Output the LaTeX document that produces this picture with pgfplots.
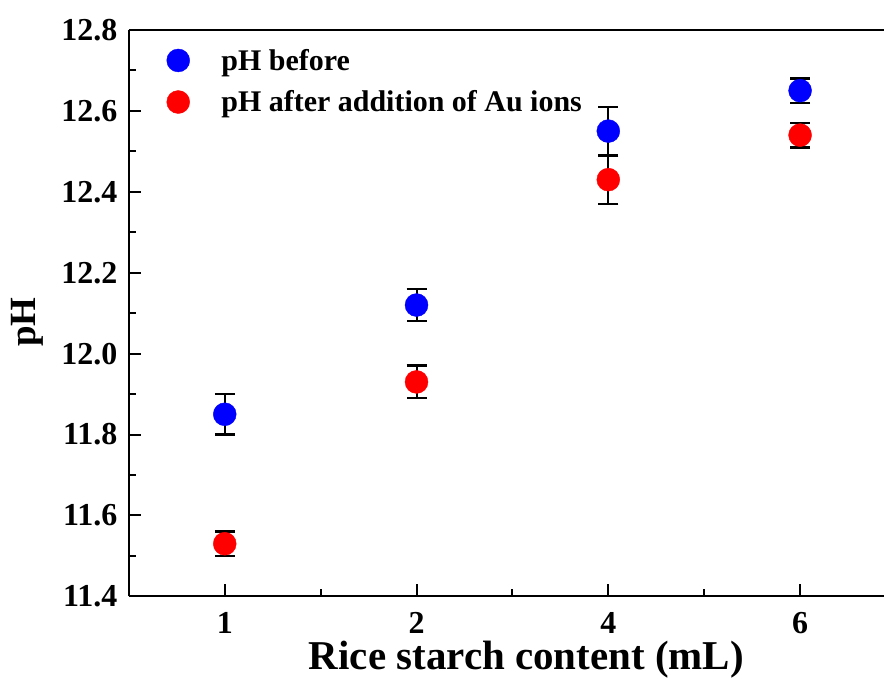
\documentclass[border=0pt]{standalone}
\usepackage{pgfplots}
\pgfplotsset{compat=1.18}
\usepackage{fontspec}
\setmainfont{Liberation Serif}
\begin{document}
\bfseries
\begin{tikzpicture}
\begin{axis}[
  scale only axis,
  width=756pt, height=567pt,
  xmin=-0.5, xmax=3.4375,
  ymin=11.4, ymax=12.8,
  axis x line*=bottom, axis y line*=left,
  axis line style={-, line width=2pt, black},
  xtick={0,1,2,3}, xticklabels={1,2,4,6},
  minor xtick={0.5,1.5,2.5},
  ytick={11.4,11.6,11.8,12.0,12.2,12.4,12.6,12.8},
  minor ytick={11.5,11.7,11.9,12.1,12.3,12.5,12.7},
  tick align=inside,
  major tick length=12pt, minor tick length=7pt,
  every tick/.style={black, line width=2pt},
  /pgf/number format/assume math mode=true,
  yticklabel style={xshift=-8pt, /pgf/number format/fixed, /pgf/number format/fixed zerofill, /pgf/number format/precision=1},
  ticklabel style={font=\fontsize{32}{36}\selectfont\bfseries},
  xticklabel style={yshift=-16pt, inner sep=0pt, text depth=0pt},
  xlabel={Rice starch content (mL)},
  ylabel={pH},
  xlabel style={font=\fontsize{41}{45}\selectfont\bfseries, inner sep=0pt, yshift=-7pt, xshift=20pt},
  ylabel style={font=\fontsize{37}{42}\selectfont\bfseries, yshift=11pt, xshift=-9pt},
  legend style={draw=none, fill=none, at={(0.049,0.970)}, anchor=north west,
    font=\fontsize{30}{34}\selectfont\bfseries, row sep=15pt, inner sep=0pt},
  legend cell align=left,
  legend image code/.code={\fill[#1] (0pt,0pt) circle (11.5pt);\path (-12pt,0pt) (41pt,0pt);},
  clip=false,
]
\addplot[only marks, mark=*, mark size=11.5pt, color=blue, mark options={fill=blue, draw=blue},
  error bars/.cd, y dir=both, y explicit,
  error bar style={black, line width=2pt},
  error mark options={rotate=90, mark size=10pt, line width=2.5pt, black}]
  coordinates {
  (0,11.85) +- (0,0.05)
  (1,12.12) +- (0,0.04)
  (2,12.55) +- (0,0.06)
  (3,12.65) +- (0,0.03)
};
\addlegendentry{pH before}
\addplot[only marks, mark=*, mark size=11.5pt, color=red, mark options={fill=red, draw=red},
  error bars/.cd, y dir=both, y explicit,
  error bar style={black, line width=2pt},
  error mark options={rotate=90, mark size=10pt, line width=2.5pt, black}]
  coordinates {
  (0,11.53) +- (0,0.03)
  (1,11.93) +- (0,0.04)
  (2,12.43) +- (0,0.06)
  (3,12.54) +- (0,0.03)
};
\addlegendentry{pH after addition of Au ions}
\draw[line width=2pt, black] (rel axis cs:0,1) -- (rel axis cs:1,1);
\path (rel axis cs:0,0) ++(-129pt,-83pt) (rel axis cs:1,1) ++(0pt,30pt);
\end{axis}
\end{tikzpicture}
\end{document}
